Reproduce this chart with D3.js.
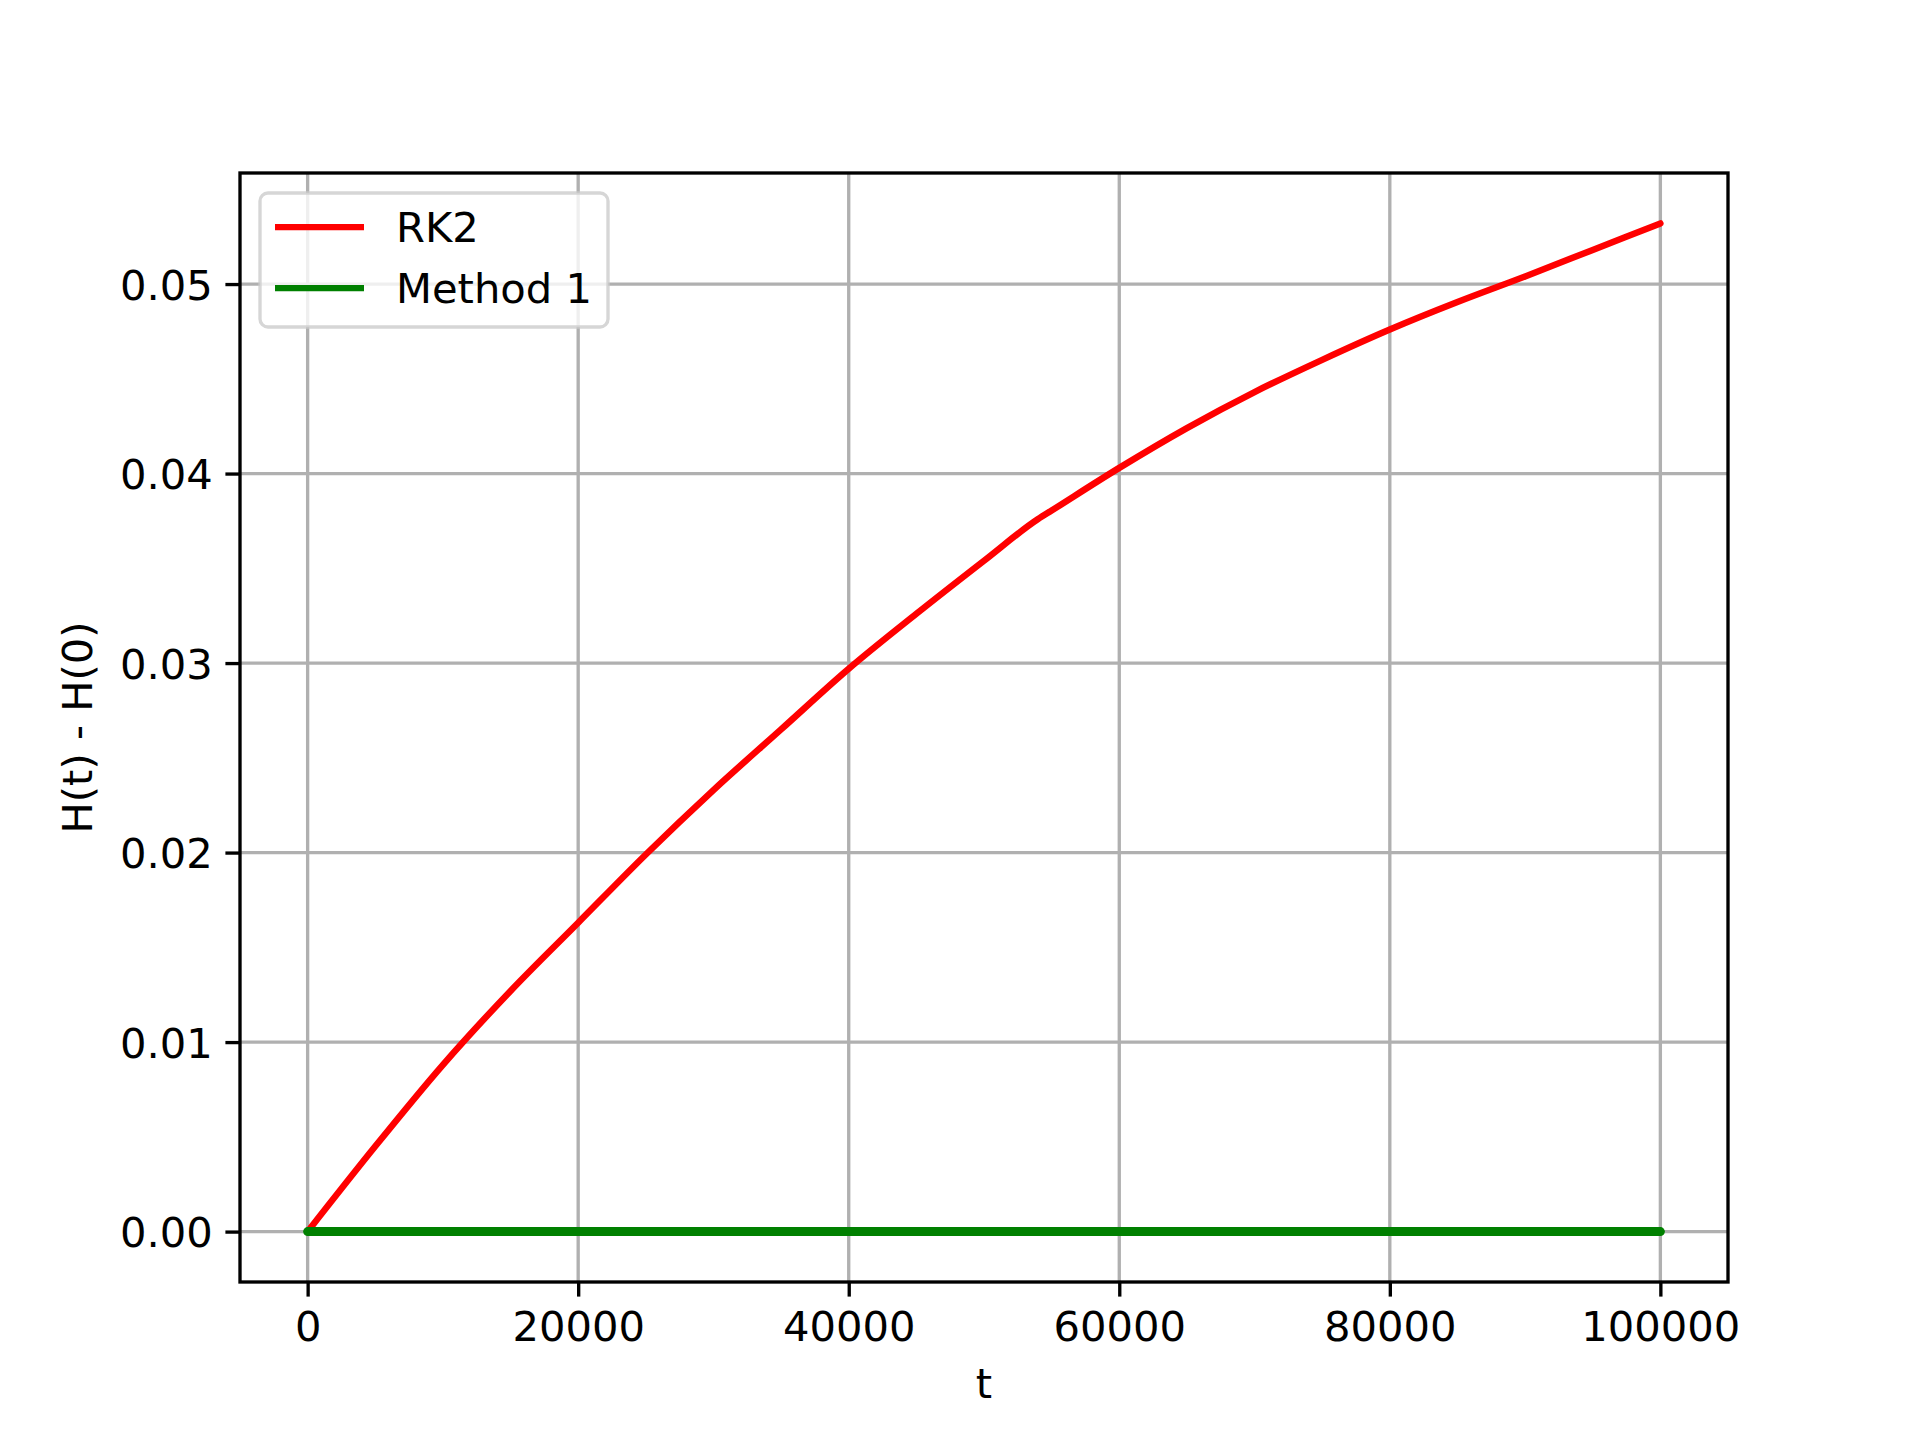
<!DOCTYPE html>
<html>
<head>
<meta charset="utf-8">
<script src="https://cdn.jsdelivr.net/npm/d3@7"></script>
<style>
  html, body { margin: 0; padding: 0; background: #ffffff; }
  svg { display: block; }
  text { font-family: "DejaVu Sans", sans-serif; fill: #000; }
</style>
</head>
<body>
<script>
// ---- data ----
const tValues = [0, 5000, 10000, 15000, 20000, 25000, 30000, 35000, 40000, 45000, 50000, 54000, 55000, 60000, 65000, 70000, 75000, 80000, 85000, 90000, 95000, 100000];
const rk2Values = [0.0000, 0.0045, 0.0088, 0.0127, 0.0163, 0.0199, 0.0233, 0.0265, 0.0297, 0.0326, 0.0354, 0.0376, 0.03805, 0.0403, 0.0424, 0.0443, 0.0460, 0.0476, 0.04905, 0.0504, 0.0518, 0.0532];
const method1Values = [0, 0, 0, 0, 0, 0, 0, 0, 0, 0, 0, 0, 0, 0, 0, 0, 0, 0, 0, 0, 0, 0];
const seriesNames = ["RK2", "Method 1"];
const seriesColors = ["#ff0000", "#008000"];
const xTicks = [0, 20000, 40000, 60000, 80000, 100000];
const yTicks = [0.00, 0.01, 0.02, 0.03, 0.04, 0.05];
const xLabel = "t";
const yLabel = "H(t) - H(0)";

(function () {
// ---- layout ----
const W = 1920, H = 1440;
const mLeft = 240, mRight = 1728, mTop = 173, mBottom = 1282;
const fontPx = 41.67;
const lw = 3.33;

const svg = d3.select("body").append("svg").attr("width", W).attr("height", H);

const xMin = 0, xMax = 100000;
const xPad = (xMax - xMin) * 0.05;
const yMinD = 0, yMaxD = d3.max(rk2Values);
const yPad = (yMaxD - yMinD) * 0.05;

const x = d3.scaleLinear().domain([xMin - xPad, xMax + xPad]).range([mLeft, mRight]);
const y = d3.scaleLinear().domain([yMinD - yPad, yMaxD + yPad]).range([mBottom, mTop]);

// grid
const grid = svg.append("g");
grid.selectAll("line.gx").data(xTicks).enter().append("line").attr("class", "gx")
  .attr("x1", d => x(d)).attr("x2", d => x(d)).attr("y1", mTop).attr("y2", mBottom)
  .attr("stroke", "#b0b0b0").attr("stroke-width", lw);
grid.selectAll("line.gy").data(yTicks).enter().append("line").attr("class", "gy")
  .attr("y1", d => y(d)).attr("y2", d => y(d)).attr("x1", mLeft).attr("x2", mRight)
  .attr("stroke", "#b0b0b0").attr("stroke-width", lw);

// lines
const data1 = tValues.map((t, i) => [t, rk2Values[i]]);
const data2 = tValues.map((t, i) => [t, method1Values[i]]);
const line = d3.line().x(d => x(d[0])).y(d => y(d[1])).curve(d3.curveMonotoneX);

svg.append("clipPath").attr("id", "clip").append("rect")
  .attr("x", mLeft).attr("y", mTop).attr("width", mRight - mLeft).attr("height", mBottom - mTop);

const plot = svg.append("g").attr("clip-path", "url(#clip)");
plot.append("path").datum(data1).attr("d", line)
  .attr("fill", "none").attr("stroke", seriesColors[0]).attr("stroke-width", 6.5)
  .attr("stroke-linejoin", "round").attr("stroke-linecap", "round");
plot.append("path").datum(data2).attr("d", line)
  .attr("fill", "none").attr("stroke", seriesColors[1]).attr("stroke-width", 9)
  .attr("stroke-linejoin", "round").attr("stroke-linecap", "round");

// axes
const tickLen = 14.6, tickPad = 14.6;
const xAxis = d3.axisBottom(x).tickValues(xTicks).tickFormat(d3.format("d"))
  .tickSize(tickLen).tickPadding(tickPad);
const yAxis = d3.axisLeft(y).tickValues(yTicks).tickFormat(d3.format(".2f"))
  .tickSize(tickLen).tickPadding(tickPad);

const gx = svg.append("g").attr("transform", `translate(0,${mBottom})`).call(xAxis);
const gy = svg.append("g").attr("transform", `translate(${mLeft},0)`).call(yAxis);
[gx, gy].forEach(g => {
  g.select(".domain").remove();
  g.selectAll(".tick line").attr("stroke", "#000").attr("stroke-width", lw);
  g.selectAll(".tick text").attr("font-family", "DejaVu Sans").attr("font-size", fontPx).attr("fill", "#000");
});
gx.selectAll(".tick text").attr("dy", null).attr("y", 1341 - mBottom);
gy.selectAll(".tick text").attr("dy", null).attr("x", -(tickLen + tickPad) + 2).attr("y", 15);

// spines
svg.append("rect").attr("x", mLeft).attr("y", mTop).attr("width", mRight - mLeft).attr("height", mBottom - mTop)
  .attr("fill", "none").attr("stroke", "#000").attr("stroke-width", lw);

// axis labels
svg.append("text").attr("x", (mLeft + mRight) / 2).attr("y", 1398)
  .attr("text-anchor", "middle").attr("font-size", fontPx).text(xLabel);
svg.append("text").attr("transform", `translate(92,${(mTop + mBottom) / 2}) rotate(-90)`)
  .attr("text-anchor", "middle").attr("font-size", fontPx).text(yLabel);

// legend
const lg = svg.append("g");
lg.append("rect").attr("x", 260).attr("y", 193).attr("width", 348).attr("height", 134)
  .attr("rx", 8).attr("ry", 8)
  .attr("fill", "#ffffff").attr("fill-opacity", 0.8)
  .attr("stroke", "#cccccc").attr("stroke-opacity", 0.8).attr("stroke-width", lw);
const legY = [227, 288];
seriesNames.forEach((name, i) => {
  lg.append("line").attr("x1", 275).attr("x2", 364).attr("y1", legY[i]).attr("y2", legY[i])
    .attr("stroke", seriesColors[i]).attr("stroke-width", 6.25);
  lg.append("text").attr("x", 396).attr("y", legY[i] + 15)
    .attr("font-size", fontPx).text(name);
});
})();
</script>
</body>
</html>
